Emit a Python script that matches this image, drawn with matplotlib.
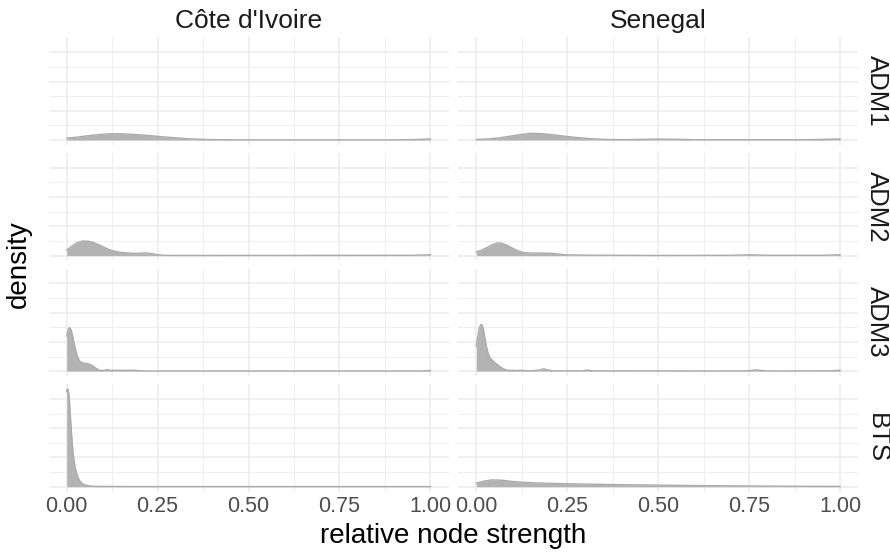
import matplotlib
matplotlib.use("Agg")
import matplotlib.pyplot as plt
from matplotlib.ticker import FixedLocator

plt.rcParams['font.family'] = ['Liberation Sans', 'DejaVu Sans']

countries = ["Côte d'Ivoire", "Senegal"]
levels = ["ADM1", "ADM2", "ADM3", "BTS"]
x_ticks = [0.0, 0.25, 0.5, 0.75, 1.0]
x_labels = ["0.00", "0.25", "0.50", "0.75", "1.00"]

# density curves (x = relative node strength, y = density)
civ_adm1_x = [0.0, 0.03, 0.06, 0.09, 0.12, 0.15, 0.18, 0.22, 0.26, 0.30, 0.34, 0.38, 0.42, 0.5, 0.9, 0.95, 1.0]
civ_adm1_y = [0.65, 1.0, 1.5, 1.9, 2.15, 2.15, 1.95, 1.6, 1.15, 0.75, 0.4, 0.2, 0.1, 0.05, 0.05, 0.15, 0.35]

civ_adm2_x = [0.0, 0.015, 0.03, 0.045, 0.06, 0.075, 0.09, 0.105, 0.12, 0.135, 0.15, 0.17, 0.19, 0.205, 0.215,
              0.23, 0.25, 0.27, 0.3, 0.95, 1.0]
civ_adm2_y = [1.9, 3.3, 4.5, 5.0, 4.9, 4.4, 3.6, 2.7, 1.9, 1.4, 1.1, 0.9, 0.75, 0.85, 0.95,
              0.75, 0.3, 0.1, 0.05, 0.1, 0.3]

civ_adm3_x = [0.0, 0.004, 0.008, 0.012, 0.016, 0.02, 0.025, 0.03, 0.035, 0.04, 0.05, 0.06, 0.07, 0.08, 0.09,
              0.1, 0.11, 0.12, 0.14, 0.16, 0.18, 0.2, 0.22, 0.97, 1.0]
civ_adm3_y = [12.0, 14.3, 14.9, 14.2, 12.2, 9.8, 7.0, 4.8, 3.6, 3.0, 2.7, 2.5, 2.0, 1.0, 0.3,
              0.2, 0.55, 0.3, 0.3, 0.25, 0.35, 0.15, 0.05, 0.05, 0.2]

civ_bts_x = [0.0, 0.002, 0.004, 0.006, 0.008, 0.01, 0.012, 0.014, 0.016, 0.018, 0.021, 0.024, 0.027, 0.031,
             0.035, 0.04, 0.045, 0.05, 0.06, 0.07, 0.09, 0.2, 1.0]
civ_bts_y = [32.5, 33.4, 33.3, 31.5, 28.5, 24.5, 20.5, 17.0, 13.8, 11.0, 8.3, 6.3, 4.7, 3.2,
             2.2, 1.4, 0.9, 0.65, 0.35, 0.2, 0.1, 0.05, 0.05]

sen_adm1_x = [0.0, 0.03, 0.06, 0.09, 0.12, 0.15, 0.18, 0.21, 0.24, 0.27, 0.30, 0.33, 0.36, 0.4, 0.45, 0.5,
              0.55, 0.6, 0.9, 0.95, 1.0]
sen_adm1_y = [0.2, 0.35, 0.7, 1.25, 1.85, 2.3, 2.2, 1.8, 1.35, 0.95, 0.6, 0.35, 0.2, 0.12, 0.2, 0.35,
              0.25, 0.1, 0.1, 0.2, 0.4]

sen_adm2_x = [0.0, 0.015, 0.03, 0.045, 0.058, 0.07, 0.085, 0.1, 0.115, 0.13, 0.15, 0.17, 0.19, 0.21, 0.23,
              0.25, 0.3, 0.4, 0.5, 0.7, 0.75, 0.8, 0.95, 1.0]
sen_adm2_y = [1.3, 1.9, 2.8, 3.8, 4.35, 4.2, 3.5, 2.5, 1.6, 1.05, 0.85, 0.85, 0.85, 0.75, 0.45,
              0.25, 0.15, 0.1, 0.05, 0.1, 0.3, 0.1, 0.1, 0.3]

sen_adm3_x = [0.0, 0.004, 0.008, 0.012, 0.016, 0.02, 0.024, 0.028, 0.032, 0.036, 0.04, 0.05, 0.06, 0.07,
              0.08, 0.09, 0.1, 0.11, 0.125, 0.14, 0.16, 0.175, 0.185, 0.195, 0.21, 0.29, 0.305, 0.32,
              0.74, 0.77, 0.8, 0.97, 1.0]
sen_adm3_y = [8.5, 12.0, 14.8, 15.9, 15.8, 14.0, 11.0, 8.3, 6.3, 5.0, 4.2, 3.0, 2.0, 1.1,
              0.45, 0.25, 0.3, 0.2, 0.3, 0.15, 0.2, 0.45, 0.8, 0.5, 0.1, 0.1, 0.4, 0.1,
              0.05, 0.45, 0.05, 0.1, 0.3]

sen_bts_x = [0.0, 0.02, 0.04, 0.06, 0.08, 0.1, 0.13, 0.17, 0.22, 0.3, 0.4, 0.5, 0.6, 0.7, 0.8, 0.9, 1.0]
sen_bts_y = [1.2, 1.9, 2.3, 2.3, 2.1, 1.8, 1.5, 1.3, 1.1, 0.9, 0.7, 0.55, 0.4, 0.3, 0.22, 0.15, 0.12]

curves = {
    ("ADM1", "Côte d'Ivoire"): (civ_adm1_x, civ_adm1_y),
    ("ADM2", "Côte d'Ivoire"): (civ_adm2_x, civ_adm2_y),
    ("ADM3", "Côte d'Ivoire"): (civ_adm3_x, civ_adm3_y),
    ("BTS", "Côte d'Ivoire"): (civ_bts_x, civ_bts_y),
    ("ADM1", "Senegal"): (sen_adm1_x, sen_adm1_y),
    ("ADM2", "Senegal"): (sen_adm2_x, sen_adm2_y),
    ("ADM3", "Senegal"): (sen_adm3_x, sen_adm3_y),
    ("BTS", "Senegal"): (sen_bts_x, sen_bts_y),
}

ymax = max(max(y) for _, y in curves.values())
grid_col = "#ebebeb"

fig, axes = plt.subplots(4, 2, figsize=(8.9, 5.55), dpi=100)
fig.subplots_adjust(left=0.0545, right=0.9643, top=0.9326, bottom=0.1142, wspace=0.024, hspace=0.075)

for i, lev in enumerate(levels):
    for j, country in enumerate(countries):
        ax = axes[i, j]
        x, y = curves[(lev, country)]
        ax.fill_between(x, y, 0, color="#b3b3b3", linewidth=0, zorder=3)
        ax.plot(x, y, color="#ababab", linewidth=1.0, zorder=4)

        ax.set_xlim(-0.05, 1.05)
        ax.set_ylim(-0.05 * ymax, ymax * 1.05)
        ax.xaxis.set_major_locator(FixedLocator(x_ticks))
        ax.xaxis.set_minor_locator(FixedLocator([0.125, 0.375, 0.625, 0.875]))
        ax.yaxis.set_major_locator(FixedLocator([0, 10, 20, 30]))
        ax.yaxis.set_minor_locator(FixedLocator([5, 15, 25]))
        ax.grid(which="major", color=grid_col, linewidth=1.1, zorder=0)
        ax.grid(which="minor", color=grid_col, linewidth=0.55, zorder=0)
        ax.set_axisbelow(True)
        for s in ax.spines.values():
            s.set_visible(False)
        ax.tick_params(which="both", length=0)
        ax.set_yticklabels([])
        if i == len(levels) - 1:
            ax.set_xticklabels(x_labels)
            ax.tick_params(axis="x", labelsize=15.5, labelcolor="#4d4d4d", pad=3)
        else:
            ax.set_xticklabels([])

        if i == 0:
            ax.set_title(country, fontsize=19, color="#1a1a1a", pad=7)

# right-hand strip labels, one per row
for i, lev in enumerate(levels):
    box = axes[i, 1].get_position()
    fig.text(865 / 890, (box.y0 + box.y1) / 2, lev, rotation=-90, ha="left", va="center",
             fontsize=18.5, color="#1a1a1a")

fig.text(453.4 / 890, 1 - 543 / 555, "relative node strength", ha="center", va="baseline", fontsize=20)
fig.text(19 / 890, 1 - 264.5 / 555, "density", ha="center", va="center", rotation=90, fontsize=20)

fig.savefig("out.png", dpi=100)
